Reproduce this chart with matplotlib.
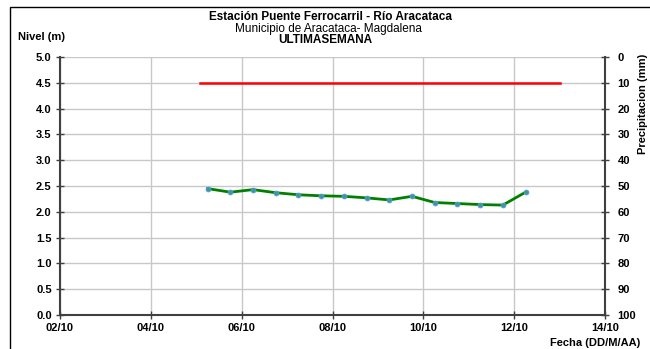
import pandas as pd
import matplotlib.pyplot as plt
import matplotlib.dates as mdates
from matplotlib.patches import Rectangle

# level readings every 12 hours
fechas = pd.date_range("2023-10-05 06:00", periods=15, freq="12h")
nivel = [2.45, 2.38, 2.43, 2.37, 2.33, 2.31, 2.30, 2.27, 2.23, 2.30,
         2.18, 2.16, 2.14, 2.13, 2.38]

# alert level (red line)
alerta_fechas = pd.to_datetime(["2023-10-05 02:00", "2023-10-13 00:00"])
alerta_nivel = [4.5, 4.5]

x_ini, x_fin = pd.Timestamp("2023-10-02"), pd.Timestamp("2023-10-14")
precip_ticks = list(range(0, 101, 10))

plt.rcParams["font.family"] = ["Liberation Sans", "DejaVu Sans"]

fig = plt.figure(figsize=(6.5, 3.49), dpi=100)
ax = fig.add_axes([0.0923, 0.0974, 0.8385, 0.7393])

# outer frame (partly outside the picture, like the source screenshot)
fig.patches.append(Rectangle((10 / 650, -0.1), 1.2, 1.1 - 7 / 349, transform=fig.transFigure,
                             fill=False, edgecolor="black", linewidth=1.0))

ax.plot(alerta_fechas, alerta_nivel, color="#FF0000", linewidth=1.8, zorder=3)
ax.plot(fechas, nivel, color="#008000", linewidth=2.0, zorder=4,
        marker="o", markersize=3.5, markerfacecolor="#3A9A9A", markeredgecolor="#5B9BD5",
        markeredgewidth=0.6)

ax.set_xlim(x_ini, x_fin)
ax.set_ylim(0, 5)
ax.set_yticks([i * 0.5 for i in range(11)])
ax.yaxis.set_major_formatter(plt.FormatStrFormatter("%.1f"))
ax.xaxis.set_major_locator(mdates.DayLocator(interval=2))
ax.xaxis.set_major_formatter(mdates.DateFormatter("%d/%m"))
ax.grid(True, color="#C8C8C8", linewidth=1.0)
ax.set_axisbelow(True)

for s in ["top", "right"]:
    ax.spines[s].set_visible(False)
for s in ["left", "bottom"]:
    ax.spines[s].set_color("#404040")
    ax.spines[s].set_linewidth(1.5)
ax.tick_params(axis="both", direction="inout", length=6, width=1, color="#404040",
               labelsize=8, pad=3)
for lbl in ax.get_xticklabels() + ax.get_yticklabels():
    lbl.set_fontweight("bold")

# precipitation axis (right)
ax2 = ax.twinx()
ax2.set_ylim(100, 0)
ax2.set_yticks(precip_ticks)
for s in ["top", "left", "bottom"]:
    ax2.spines[s].set_visible(False)
ax2.spines["right"].set_color("#404040")
ax2.spines["right"].set_linewidth(1.5)
ax2.tick_params(axis="y", direction="inout", length=6, width=1, color="#404040",
                labelsize=8, pad=6)
for lbl in ax2.get_yticklabels():
    lbl.set_fontweight("bold")

fig.text(0.508, 0.950, "Estación Puente Ferrocarril - Río Aracataca", ha="center", va="center",
         fontsize=8.5, fontweight="bold")
fig.text(0.505, 0.918, "Municipio de Aracataca- Magdalena", ha="center", va="center", fontsize=8.5)
fig.text(0.5, 0.886, "ULTIMASEMANA", ha="center", va="center", fontsize=8.5, fontweight="bold")
fig.text(0.028, 0.895, "Nivel (m)", ha="left", va="center", fontsize=8, fontweight="bold")
fig.text(0.985, 0.018, "Fecha (DD/M/AA)", ha="right", va="center", fontsize=8, fontweight="bold")
fig.text(0.989, 0.845, "Precipitacion (mm)", ha="center", va="top", fontsize=8,
         fontweight="bold", rotation=90)

fig.savefig("out.png", dpi=100)
